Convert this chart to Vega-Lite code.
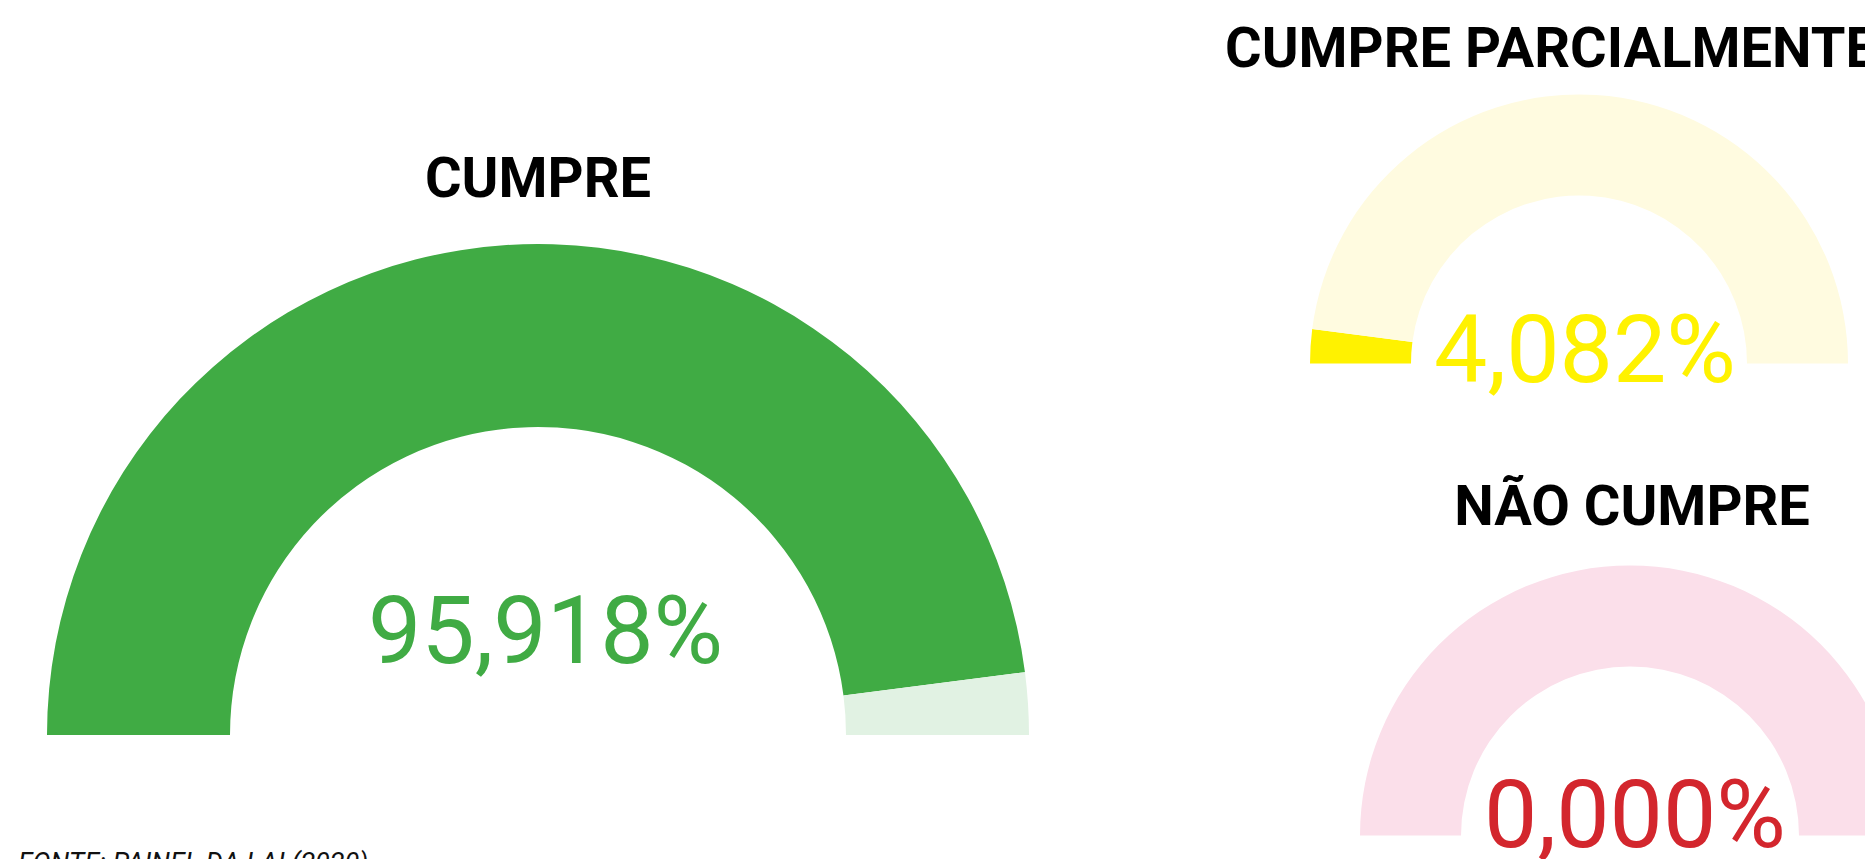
{
  "$schema": "https://vega.github.io/schema/vega-lite/v6.json",
  "padding": 0,
  "background": "white",
  "config": {"view": {"stroke": null}},
  "datasets": {
    "segs": [
      {"gauge": "Cumpre", "seg": "Cumpre", "v": 95.918, "ord": 1},
      {"gauge": "Cumpre", "seg": "Cumpre (restante)", "v": 4.082, "ord": 2},
      {"gauge": "Cumpre parcialmente", "seg": "Cumpre parcialmente", "v": 4.082, "ord": 1},
      {"gauge": "Cumpre parcialmente", "seg": "Cumpre parcialmente (restante)", "v": 95.918, "ord": 2},
      {"gauge": "Não cumpre", "seg": "Não cumpre", "v": 0, "ord": 1},
      {"gauge": "Não cumpre", "seg": "Não cumpre (restante)", "v": 100, "ord": 2}
    ],
    "labels": [
      {"gauge": "Cumpre", "title": "CUMPRE", "pct": "95,918%", "note": "FONTE: PAINEL DA LAI (2020)"},
      {"gauge": "Cumpre parcialmente", "title": "CUMPRE PARCIALMENTE", "pct": "4,082%", "note": ""},
      {"gauge": "Não cumpre", "title": "NÃO CUMPRE", "pct": "0,000%", "note": ""}
    ]
  },
  "bounds": "flush",
  "spacing": 0,
  "resolve": {"scale": {"color": "shared", "theta": "shared"}},
  "hconcat": [
    {
      "width": 1076,
      "height": 1470,
      "layer": [
        {
          "data": {"name": "segs"},
          "transform": [{"filter": "datum.gauge === 'Cumpre'"}],
          "mark": {"type": "arc", "outerRadius": 491, "innerRadius": 308},
          "encoding": {
            "theta": {"field": "v", "type": "quantitative", "stack": true, "scale": {"domain": [0, 100], "range": [-1.5707963, 1.5707963]}},
            "order": {"field": "ord"},
            "color": {"field": "seg", "type": "nominal", "legend": null,
              "scale": {"domain": ["Cumpre", "Cumpre (restante)", "Cumpre parcialmente", "Cumpre parcialmente (restante)", "Não cumpre", "Não cumpre (restante)"],
                        "range": ["#40AB44", "#E1F2E3", "#FFF200", "#FFFBE0", "#D3262D", "#FBDFEA"]}}
          }
        },
        {
          "data": {"name": "labels"},
          "transform": [{"filter": "datum.gauge === 'Cumpre'"}],
          "mark": {"type": "text", "font": "Roboto", "fontWeight": "bold", "fontSize": 56, "align": "center", "baseline": "alphabetic", "dy": -537.6, "color": "#000000"},
          "encoding": {"text": {"field": "title"}}
        },
        {
          "data": {"name": "labels"},
          "transform": [{"filter": "datum.gauge === 'Cumpre'"}],
          "mark": {"type": "text", "font": "Roboto", "fontWeight": "normal", "fontSize": 95, "align": "center", "baseline": "alphabetic", "dx": 7.5, "dy": -72.5, "color": "#40AB44"},
          "encoding": {"text": {"field": "pct"}}
        },
        {
          "data": {"name": "labels"},
          "transform": [{"filter": "datum.gauge === 'Cumpre'"}],
          "mark": {"type": "text", "font": "Roboto", "fontStyle": "italic", "fontSize": 27, "align": "left", "baseline": "alphabetic", "dx": -520, "dy": 137, "color": "#111111"},
          "encoding": {"text": {"field": "note"}}
        }
      ]
    },
    {
      "bounds": "flush",
      "spacing": 0,
      "vconcat": [
        {
          "width": 1006,
          "height": 727,
          "layer": [
            {
              "data": {"name": "segs"},
              "transform": [{"filter": "datum.gauge === 'Cumpre parcialmente'"}],
              "mark": {"type": "arc", "outerRadius": 269, "innerRadius": 168},
              "encoding": {
                "theta": {"field": "v", "type": "quantitative", "stack": true, "scale": {"domain": [0, 100], "range": [-1.5707963, 1.5707963]}},
                "order": {"field": "ord"},
                "color": {"field": "seg", "type": "nominal", "legend": null}
              }
            },
            {
              "data": {"name": "labels"},
              "transform": [{"filter": "datum.gauge === 'Cumpre parcialmente'"}],
              "mark": {"type": "text", "font": "Roboto", "fontWeight": "bold", "fontSize": 56, "align": "left", "baseline": "alphabetic", "dx": -354, "dy": -296.8, "color": "#000000"},
              "encoding": {"text": {"field": "title"}}
            },
            {
              "data": {"name": "labels"},
              "transform": [{"filter": "datum.gauge === 'Cumpre parcialmente'"}],
              "mark": {"type": "text", "font": "Roboto", "fontWeight": "normal", "fontSize": 95, "align": "center", "baseline": "alphabetic", "dx": 6, "dy": 18, "color": "#FFF200"},
              "encoding": {"text": {"field": "pct"}}
            }
          ]
        },
        {
          "width": 1108,
          "height": 217,
          "layer": [
            {
              "data": {"name": "segs"},
              "transform": [{"filter": "datum.gauge === 'Não cumpre'"}],
              "mark": {"type": "arc", "outerRadius": 270, "innerRadius": 169},
              "encoding": {
                "theta": {"field": "v", "type": "quantitative", "stack": true, "scale": {"domain": [0, 100], "range": [-1.5707963, 1.5707963]}},
                "order": {"field": "ord"},
                "color": {"field": "seg", "type": "nominal", "legend": null}
              }
            },
            {
              "data": {"name": "labels"},
              "transform": [{"filter": "datum.gauge === 'Não cumpre'"}],
              "mark": {"type": "text", "font": "Roboto", "fontWeight": "bold", "fontSize": 56, "align": "center", "baseline": "alphabetic", "dx": 2, "dy": -310.5, "color": "#000000"},
              "encoding": {"text": {"field": "title"}}
            },
            {
              "data": {"name": "labels"},
              "transform": [{"filter": "datum.gauge === 'Não cumpre'"}],
              "mark": {"type": "text", "font": "Roboto", "fontWeight": "normal", "fontSize": 95, "align": "center", "baseline": "alphabetic", "dx": 5, "dy": 11.5, "color": "#D3262D"},
              "encoding": {"text": {"field": "pct"}}
            }
          ]
        }
      ]
    }
  ]
}
